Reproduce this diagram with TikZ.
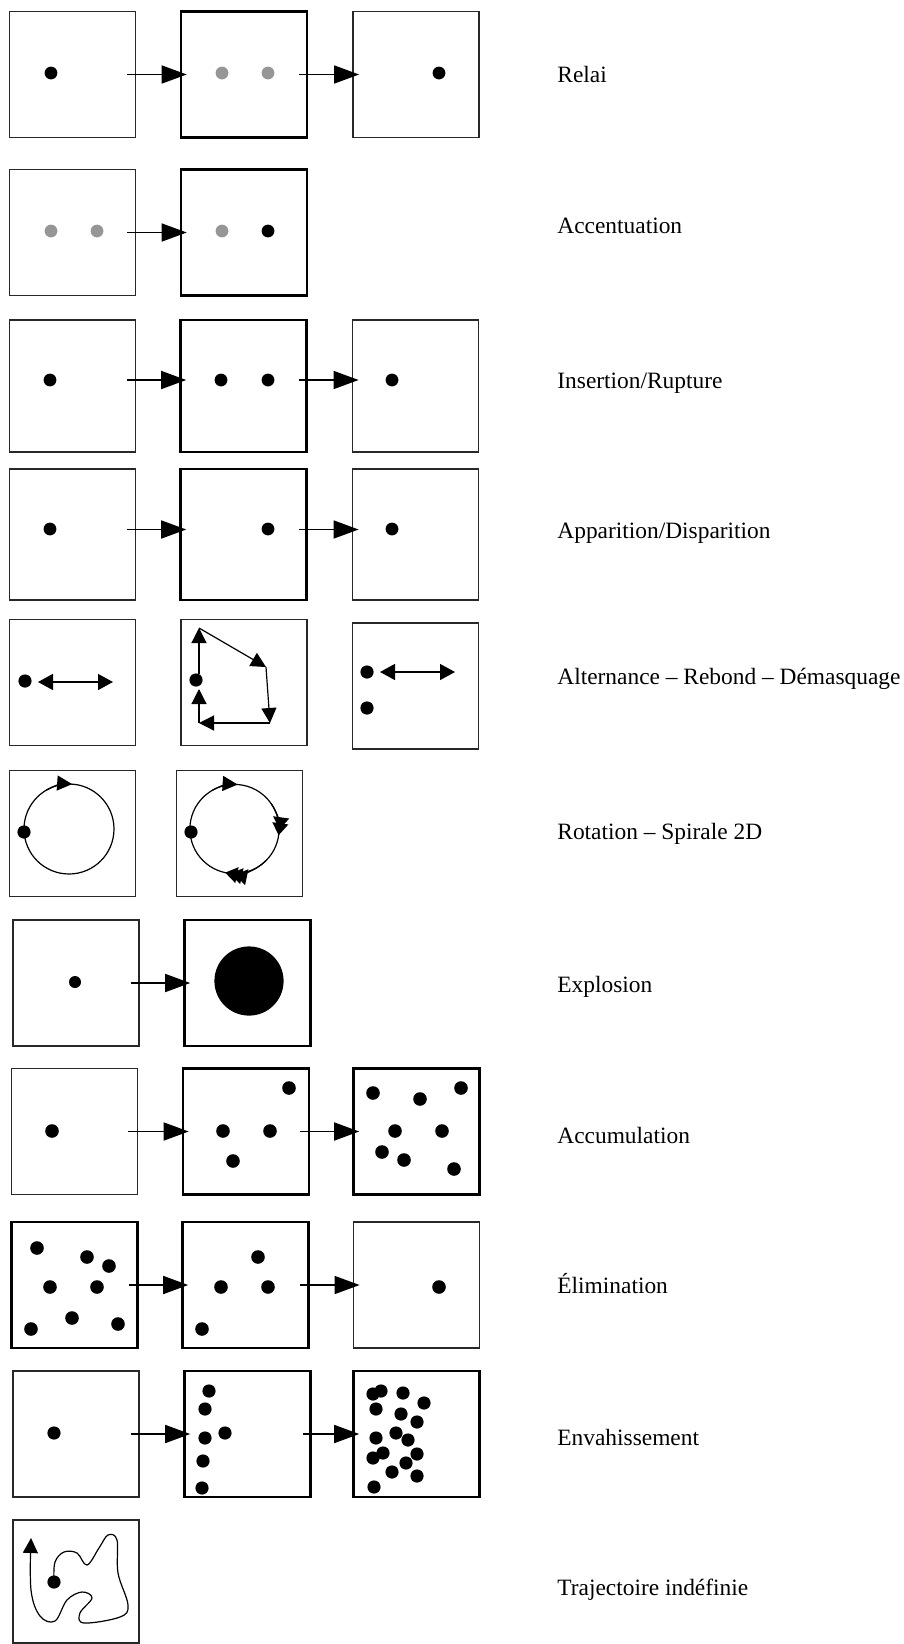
\documentclass[tikz,border=0pt]{standalone}
\usepackage{fontspec}
\setmainfont{Liberation Serif}
\usetikzlibrary{arrows.meta}
\definecolor{ink}{RGB}{40,40,40}
\definecolor{faded}{RGB}{150,150,150}

\begin{document}
\begin{tikzpicture}[x=0.5pt, y=-0.5pt,
  box/.style={draw=ink, line width=0.9pt, minimum width=63pt, minimum height=63pt, inner sep=0pt},
  heavy/.style={box, draw=black, line width=1.3pt},
  lbl/.style={anchor=west, inner sep=0pt, font=\fontsize{11.7}{14}\selectfont},
  flow/.style={line width=0.8pt, -{Triangle[length=12.5pt, width=9pt]}},
  swing/.style={line width=0.7pt, {Triangle[length=7.5pt, width=8pt]}-{Triangle[length=7.5pt, width=8pt]}},
  turn/.style={line width=0.6pt, -{Triangle[length=7.5pt, width=7.5pt]}},
  spin/.style={line width=0.6pt}]
  \useasboundingbox (0,0) rectangle (904,1644);

  % Relai
  \node[box] (rel1) at (72.5,74.5) {};
  \node[heavy] (rel2) at (244,74.5) {};
  \node[box] (rel3) at (416,74.5) {};
  \fill (51,73) circle (3.2pt) (439,73) circle (3.2pt);
  \fill[faded] (222,73) circle (3.2pt) (268,73) circle (3.2pt);
  \draw[flow] ([xshift=-4.5pt]rel1.east) -- ([xshift=3.5pt]rel2.west);
  \draw[flow] ([xshift=-4.5pt]rel2.east) -- ([xshift=3.5pt]rel3.west);
  \node[lbl] (trel) at (557,74) {Relai};

  % Accentuation
  \node[box] (acc1) at (72.5,232.5) {};
  \node[heavy] (acc2) at (244,232.5) {};
  \fill[faded] (51,231) circle (3.2pt) (97,231) circle (3.2pt) (222,231) circle (3.2pt);
  \fill (268,231) circle (3.2pt);
  \draw[flow] ([xshift=-4.5pt]acc1.east) -- ([xshift=3.5pt]acc2.west);
  \node[lbl] (tacc) at (557,226) {Accentuation};

  % Insertion/Rupture
  \node[box, minimum height=66pt] (ins1) at (72.5,386) {};
  \node[heavy, minimum height=66pt] (ins2) at (243.5,386) {};
  \node[box, minimum height=66pt] (ins3) at (415.5,386) {};
  \fill (50,380) circle (3.2pt) (221,380) circle (3.2pt) (268,380) circle (3.2pt) (392,380) circle (3.2pt);
  \draw[flow] ([xshift=-4.5pt, yshift=3pt]ins1.east) -- ([xshift=3.5pt, yshift=3pt]ins2.west);
  \draw[flow] ([xshift=-4.5pt, yshift=3pt]ins2.east) -- ([xshift=3.5pt, yshift=3pt]ins3.west);
  \node[lbl] (tins) at (557,383) {Insertion/Rupture};

  % Apparition/Disparition
  \node[box, minimum height=65.5pt] (app1) at (72.5,534.5) {};
  \node[heavy, minimum height=65.5pt] (app2) at (243.5,534.5) {};
  \node[box, minimum height=65.5pt] (app3) at (415.5,534.5) {};
  \fill (50,529) circle (3.2pt) (268,529) circle (3.2pt) (392,529) circle (3.2pt);
  \draw[flow] ([xshift=-4.5pt, yshift=2.5pt]app1.east) -- ([xshift=3.5pt, yshift=2.5pt]app2.west);
  \draw[flow] ([xshift=-4.5pt, yshift=2.5pt]app2.east) -- ([xshift=3.5pt, yshift=2.5pt]app3.west);
  \node[lbl] (tapp) at (557,533) {Apparition/Disparition};

  % Alternance - Rebond - Demasquage
  \node[box] (alt1) at (72.5,682.5) {};
  \node[box] (alt2) at (244,682.5) {};
  \node[box] (alt3) at (415.5,686) {};
  \fill (25,681) circle (3.3pt) (196,680) circle (3.3pt) (367,672) circle (3.3pt) (367,708) circle (3.3pt);
  \draw[swing] (38,682) -- (113,682);
  \draw[swing] (380,672) -- (455,672);
  \draw[turn] (199,674) -- (199,628);
  \draw[turn] (199,628) -- (266,667);
  \draw[turn] (266,667) -- (270,723);
  \draw[turn] (270,723) -- (199,723);
  \draw[turn] (199,723) -- (199,689);
  \node[lbl] (talt) at (557,679) {Alternance – Rebond – Démasquage};

  % Rotation - Spirale 2D
  \node[box] (rot1) at (72.5,833.5) {};
  \node[box] (rot2) at (239.5,833.5) {};
  \draw[spin] (69,829) circle (22.5pt);
  \draw[spin] (234.5,829) circle (22.3pt);
  \fill (24,832) circle (3.3pt) (191,832) circle (3.3pt);
  \draw[turn] (69,829) ++(120:22.5pt) arc[start angle=120, end angle=86, radius=22.5pt];
  \draw[turn] (234.5,829) ++(120:22.3pt) arc[start angle=120, end angle=86, radius=22.3pt];
  \draw[spin, -{Triangle[length=6pt, width=8pt, sep=-3pt] Triangle[length=6pt, width=8pt]}]
    (234.5,829) ++(35:22.3pt) arc[start angle=35, end angle=-8, radius=22.3pt];
  \draw[spin, -{Triangle[length=6pt, width=8pt, sep=-3.5pt] Triangle[length=6pt, width=8pt, sep=-3.5pt] Triangle[length=6pt, width=8pt]}]
    (234.5,829) ++(-45:22.3pt) arc[start angle=-45, end angle=-102, radius=22.3pt];
  \node[lbl] (trot) at (557,834) {Rotation – Spirale 2D};

  % Explosion
  \node[box] (exp1) at (76,983) {};
  \node[heavy] (exp2) at (247.5,983) {};
  \fill (75,982) circle (3pt);
  \fill (249,981) circle (17.3pt);
  \draw[flow] ([xshift=-4.5pt]exp1.east) -- ([xshift=3.5pt]exp2.west);
  \node[lbl] (texp) at (557,987) {Explosion};

  % Accumulation
  \node[box] (cum1) at (74.5,1131.5) {};
  \node[heavy] (cum2) at (246,1131.5) {};
  \node[heavy] (cum3) at (416.5,1131.5) {};
  \fill (52,1131) circle (3.4pt);
  \fill (289,1088) circle (3.4pt) (223,1131) circle (3.4pt) (270,1131) circle (3.4pt) (233,1161) circle (3.4pt);
  \fill (373,1093) circle (3.4pt) (420,1099) circle (3.4pt) (461,1088) circle (3.4pt) (395,1131) circle (3.4pt)
    (442,1131) circle (3.4pt) (382,1152) circle (3.4pt) (404,1160) circle (3.4pt) (454,1169) circle (3.4pt);
  \draw[flow] ([xshift=-5pt]cum1.east) -- ([xshift=3.5pt]cum2.west);
  \draw[flow] ([xshift=-5pt]cum2.east) -- ([xshift=3.5pt]cum3.west);
  \node[lbl] (tcum) at (557,1135) {Accumulation};

  % Elimination
  \node[heavy] (eli1) at (74.5,1285) {};
  \node[heavy] (eli2) at (245.5,1285) {};
  \node[box] (eli3) at (416.5,1285) {};
  \fill (37,1248) circle (3.4pt) (87,1257) circle (3.4pt) (109,1266) circle (3.4pt) (50,1287) circle (3.4pt)
    (97,1287) circle (3.4pt) (72,1318) circle (3.4pt) (31,1329) circle (3.4pt) (118,1324) circle (3.4pt);
  \fill (258,1257) circle (3.4pt) (221,1287) circle (3.4pt) (268,1287) circle (3.4pt) (202,1329) circle (3.4pt);
  \fill (439,1287) circle (3.4pt);
  \draw[flow] ([xshift=-5pt]eli1.east) -- ([xshift=3.5pt]eli2.west);
  \draw[flow] ([xshift=-5pt]eli2.east) -- ([xshift=3.5pt]eli3.west);
  \node[lbl] (teli) at (557,1284) {Élimination};

  % Envahissement
  \node[box] (env1) at (76,1434) {};
  \node[heavy] (env2) at (247.5,1434) {};
  \node[heavy] (env3) at (416.5,1434) {};
  \fill (54,1433) circle (3.3pt);
  \fill (209,1391) circle (3.3pt) (205,1409) circle (3.3pt) (205,1438) circle (3.3pt) (225,1433) circle (3.3pt)
    (203,1461) circle (3.3pt) (202,1488) circle (3.3pt);
  \fill (373,1394) circle (3.3pt) (381,1391) circle (3.3pt) (376,1409) circle (3.3pt) (403,1393) circle (3.3pt)
    (424,1403) circle (3.3pt) (401,1414) circle (3.3pt) (417,1422) circle (3.3pt) (376,1438) circle (3.3pt)
    (396,1433) circle (3.3pt) (408,1440) circle (3.3pt) (373,1458) circle (3.3pt) (383,1453) circle (3.3pt)
    (417,1454) circle (3.3pt) (406,1463) circle (3.3pt) (392,1472) circle (3.3pt) (417,1476) circle (3.3pt)
    (374,1487) circle (3.3pt);
  \draw[flow] ([xshift=-4.5pt]env1.east) -- ([xshift=3.5pt]env2.west);
  \draw[flow] ([xshift=-4.5pt]env2.east) -- ([xshift=3.5pt]env3.west);
  \node[lbl] (tenv) at (557,1437) {Envahissement};

  % Trajectoire indefinie
  \node[box, minimum height=61.5pt] (tra1) at (76,1581.5) {};
  \draw[turn] plot[smooth, tension=0.6] coordinates {(54,1580) (55,1562) (64,1552) (77,1553) (87,1565)
    (99,1548) (108,1535) (117,1540) (118,1573) (128,1605) (120,1617) (84,1623) (80,1613) (92,1598)
    (82,1592) (67,1600) (55,1621) (40,1616) (31,1590) (31,1538)};
  \fill (54,1582) circle (3.3pt);
  \node[lbl] (ttra) at (557,1590) {Trajectoire indéfinie};
\end{tikzpicture}
\end{document}
